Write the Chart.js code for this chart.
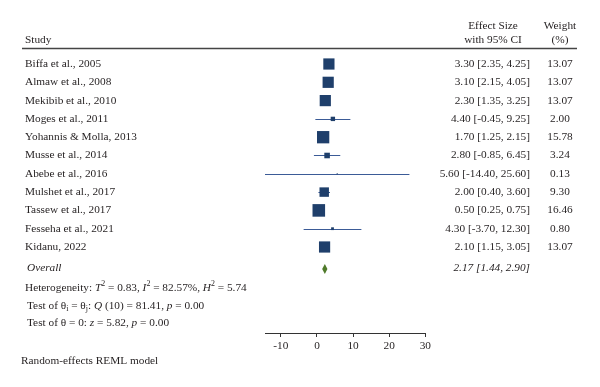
<!DOCTYPE html>
<html><head><meta charset="utf-8">
<script src="https://cdn.jsdelivr.net/npm/chart.js@4"></script>
<style>html,body{margin:0;padding:0;background:#fff}</style>
</head><body>
<canvas id="c" width="600" height="387"></canvas>
<script>
// ---- data ----
const studies = ["Biffa et al., 2005","Almaw et al., 2008","Mekibib et al., 2010","Moges et al., 2011","Yohannis & Molla, 2013","Musse et al., 2014","Abebe et al., 2016","Mulshet et al., 2017","Tassew et al., 2017","Fesseha et al., 2021","Kidanu, 2022"];
const effect = [3.30, 3.10, 2.30, 4.40, 1.70, 2.80, 5.60, 2.00, 0.50, 4.30, 2.10];
const lower  = [2.35, 2.15, 1.35, -0.45, 1.25, -0.85, -14.40, 0.40, 0.25, -3.70, 1.15];
const upper  = [4.25, 4.05, 3.25, 9.25, 2.15, 6.45, 25.60, 3.60, 0.75, 12.30, 3.05];
const weights = [13.07, 13.07, 13.07, 2.00, 15.78, 3.24, 0.13, 9.30, 16.46, 0.80, 13.07];
const overallEffect = 2.17, overallLower = 1.44, overallUpper = 2.90;
const xTicks = [-10, 0, 10, 20, 30];
const xMin = -14.4, xMax = 30;

// ---- style ----
const FONT = "'Liberation Serif', 'Times New Roman', serif";
const FS = 11.3;
const TXT = '#231f20';
const SQ = '#1f3f6b';
const CI = '#3b5b97';
const DIA = '#4f7a2a';
const OVERALL_ROW = studies.length + 0.2;

function fmt(v){ return v.toFixed(2); }
function sqRadius(ctx){ return 3.1 * Math.sqrt(weights[ctx.dataIndex] || 0) * Math.SQRT1_2; }

function rich(ctx, x, y, segs, size){
  let cx = x;
  segs.forEach(s => {
    let sz = size, dy = 0;
    if (s.sup){ sz = size*0.7; dy = -4; }
    if (s.sub){ sz = size*0.7; dy = 3; }
    ctx.font = (s.it ? 'italic ' : '') + sz + 'px ' + FONT;
    ctx.fillText(s.t, cx, y + dy);
    cx += ctx.measureText(s.t).width;
  });
}

const forest = {
  id: 'forest',
  beforeDatasetsDraw(chart){
    const {ctx, scales:{x, y}} = chart;
    ctx.save();
    ctx.strokeStyle = CI; ctx.lineWidth = 1;
    studies.forEach((s, i) => {
      const py = Math.round(y.getPixelForValue(i)) + 0.5;
      ctx.beginPath();
      ctx.moveTo(x.getPixelForValue(lower[i]), py);
      ctx.lineTo(x.getPixelForValue(upper[i]), py);
      ctx.stroke();
    });
    const oy = y.getPixelForValue(OVERALL_ROW);
    ctx.fillStyle = DIA;
    ctx.beginPath();
    ctx.moveTo(x.getPixelForValue(overallLower), oy);
    ctx.lineTo(x.getPixelForValue(overallEffect), oy - 5);
    ctx.lineTo(x.getPixelForValue(overallUpper), oy);
    ctx.lineTo(x.getPixelForValue(overallEffect), oy + 5);
    ctx.closePath(); ctx.fill();
    ctx.restore();
  },
  afterDraw(chart){
    const {ctx, scales:{y}} = chart;
    ctx.save();
    ctx.fillStyle = TXT;
    ctx.textBaseline = 'middle';
    ctx.font = FS + 'px ' + FONT;
    // header
    ctx.textAlign = 'left';
    ctx.fillText('Study', 25, 40);
    ctx.textAlign = 'center';
    ctx.fillText('Effect Size', 493, 26);
    ctx.fillText('with 95% CI', 493, 40);
    ctx.fillText('Weight', 560, 26);
    ctx.fillText('(%)', 560, 40);
    ctx.strokeStyle = '#444'; ctx.lineWidth = 1.5;
    ctx.beginPath(); ctx.moveTo(22, 48.5); ctx.lineTo(577, 48.5); ctx.stroke();
    // rows
    studies.forEach((s, i) => {
      const py = y.getPixelForValue(i);
      ctx.textAlign = 'left';
      ctx.fillText(s, 25, py);
      ctx.textAlign = 'right';
      ctx.fillText(fmt(effect[i]) + ' [' + fmt(lower[i]) + ', ' + fmt(upper[i]) + ']', 530, py);
      ctx.textAlign = 'center';
      ctx.fillText(fmt(weights[i]), 560, py);
    });
    const oy = y.getPixelForValue(OVERALL_ROW) - 1;
    ctx.font = 'italic ' + FS + 'px ' + FONT;
    ctx.textAlign = 'left';
    ctx.fillText('Overall', 27, oy);
    ctx.textAlign = 'right';
    ctx.fillText(fmt(overallEffect) + ' [' + fmt(overallLower) + ', ' + fmt(overallUpper) + ']', 530, oy);
    // stats
    ctx.textAlign = 'left';
    rich(ctx, 25, oy + 20, [
      {t:'Heterogeneity: '}, {t:'T', it:1}, {t:'2', sup:1}, {t:' = 0.83, '},
      {t:'I', it:1}, {t:'2', sup:1}, {t:' = 82.57%, '},
      {t:'H', it:1}, {t:'2', sup:1}, {t:' = 5.74'}], FS);
    rich(ctx, 27, oy + 38, [
      {t:'Test of θ'}, {t:'i', sub:1}, {t:' = θ'}, {t:'j', sub:1}, {t:': '},
      {t:'Q', it:1}, {t:' (10) = 81.41, '}, {t:'p', it:1}, {t:' = 0.00'}], FS);
    rich(ctx, 27, oy + 55, [
      {t:'Test of θ = 0: '}, {t:'z', it:1}, {t:' = 5.82, '}, {t:'p', it:1}, {t:' = 0.00'}], FS);
    ctx.font = FS + 'px ' + FONT;
    ctx.fillText('Random-effects REML model', 21, 361);
    ctx.restore();
  }
};

new Chart(document.getElementById('c'), {
  type: 'scatter',
  data: {
    datasets: [{
      data: effect.map((v, i) => ({x: v, y: i})),
      pointStyle: 'rect',
      backgroundColor: SQ,
      borderColor: SQ,
      borderWidth: 0,
      pointRadius: sqRadius,
      pointHoverRadius: sqRadius,
      clip: false
    }]
  },
  options: {
    responsive: false,
    animation: false,
    events: [],
    layout: { padding: { left: 265, right: 174.7, top: 54.85, bottom: 24 } },
    plugins: { legend: { display: false }, tooltip: { enabled: false } },
    scales: {
      y: { type: 'linear', display: false, reverse: true, min: -0.5, max: 14.7 },
      x: {
        type: 'linear', position: 'bottom', min: xMin, max: xMax,
        afterBuildTicks: s => { s.ticks = xTicks.map(v => ({value: v})); },
        afterFit: s => { s.height = 30; },
        grid: { drawOnChartArea: false, drawTicks: true, tickLength: 4, color: '#333', lineWidth: 1 },
        border: { display: true, color: '#333', width: 1 },
        ticks: { color: TXT, font: { family: FONT, size: FS }, padding: 2, maxRotation: 0, autoSkip: false }
      }
    }
  },
  plugins: [forest]
});
</script></body></html>
